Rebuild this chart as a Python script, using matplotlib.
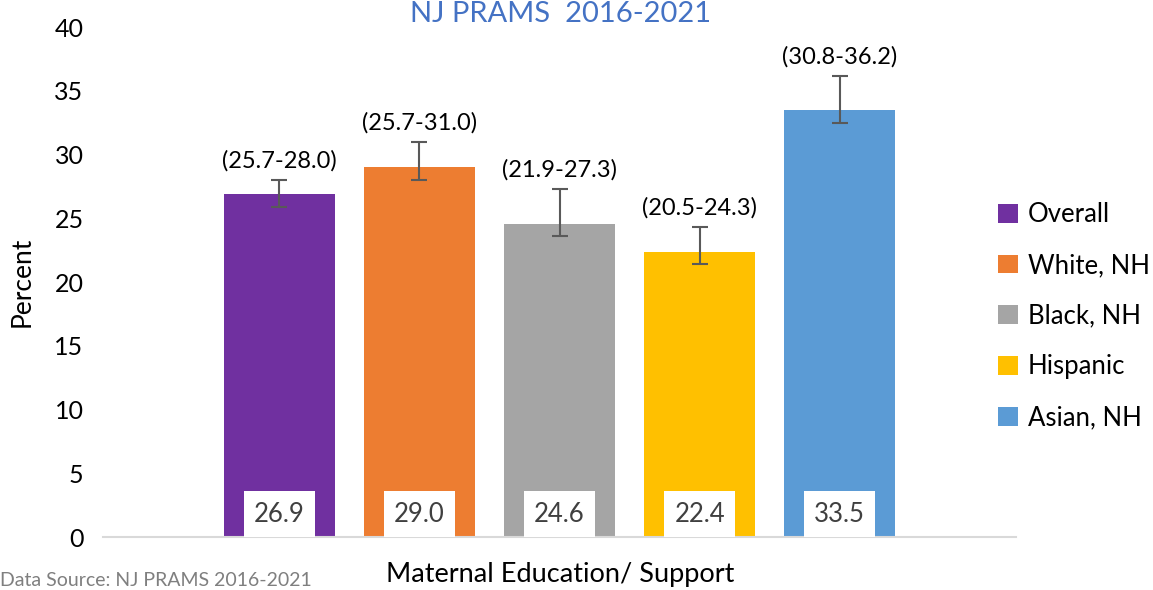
import matplotlib.pyplot as plt

plt.rcParams['font.family'] = ['Lato', 'DejaVu Sans']

# data
groups = ['Overall', 'White, NH', 'Black, NH', 'Hispanic', 'Asian, NH']
values = [26.9, 29.0, 24.6, 22.4, 33.5]
ci_low = [25.7, 25.7, 21.9, 20.5, 30.8]
ci_high = [28.0, 31.0, 27.3, 24.3, 36.2]
err_low = [1.0, 1.0, 1.0, 1.0, 1.0]  # lower whisker as drawn in the original
colors = ['#7030A0', '#ED7D31', '#A5A5A5', '#FFC000', '#5B9BD5']

fig = plt.figure(figsize=(11.53, 5.9), dpi=100)
ax = fig.add_axes([0.0893, 0.0898, 0.792, 0.864])

pos = [-2, -1, 0, 1, 2]
err_high = [h - v for h, v in zip(ci_high, values)]
for i in range(len(groups)):
    ax.bar(pos[i], values[i], width=0.79, color=colors[i], label=groups[i], zorder=2)
    ax.errorbar(pos[i], values[i], yerr=[[err_low[i]], [err_high[i]]], fmt='none',
                ecolor='#595959', elinewidth=1.5, capsize=6, capthick=1.5, zorder=3)
    ax.annotate('(%.1f-%.1f)' % (ci_low[i], ci_high[i]), (pos[i], ci_high[i]),
                xytext=(0, 6), textcoords='offset points', ha='center', va='bottom',
                fontsize=17, color='black')
    ax.text(pos[i], 1.8, '%.1f' % values[i], ha='center', va='center', fontsize=18.5,
            color='#404040', zorder=4,
            bbox=dict(boxstyle='square,pad=0.4', facecolor='white', edgecolor='none'))

ax.set_xlim(-3.26, 3.26)
ax.set_ylim(0, 40)
ax.set_yticks(range(0, 41, 5))
ax.set_xticks([])
ax.tick_params(axis='y', length=0, labelsize=18, pad=14)
for s in ['top', 'right', 'left']:
    ax.spines[s].set_visible(False)
ax.spines['bottom'].set_color('#D9D9D9')
ax.spines['bottom'].set_linewidth(1.5)

ax.set_ylabel('Percent', fontsize=19, labelpad=14)
fig.text(0.486, 0.026, 'Maternal Education/ Support', ha='center', va='center', fontsize=19.5)
fig.text(0.486, 0.977, 'NJ PRAMS  2016-2021', ha='center', va='center', fontsize=21,
         color='#4472C4')
fig.text(0.0, 0.002, 'Data Source: NJ PRAMS 2016-2021', ha='left', va='bottom',
         fontsize=14, color='#7F7F7F')

fig.legend(loc='center left', bbox_to_anchor=(0.866, 0.464), frameon=False,
           borderaxespad=0, borderpad=0,
           fontsize=18.5, handlelength=0.75, handleheight=0.75, handletextpad=0.4,
           labelspacing=1.0)

fig.savefig('out.png')
